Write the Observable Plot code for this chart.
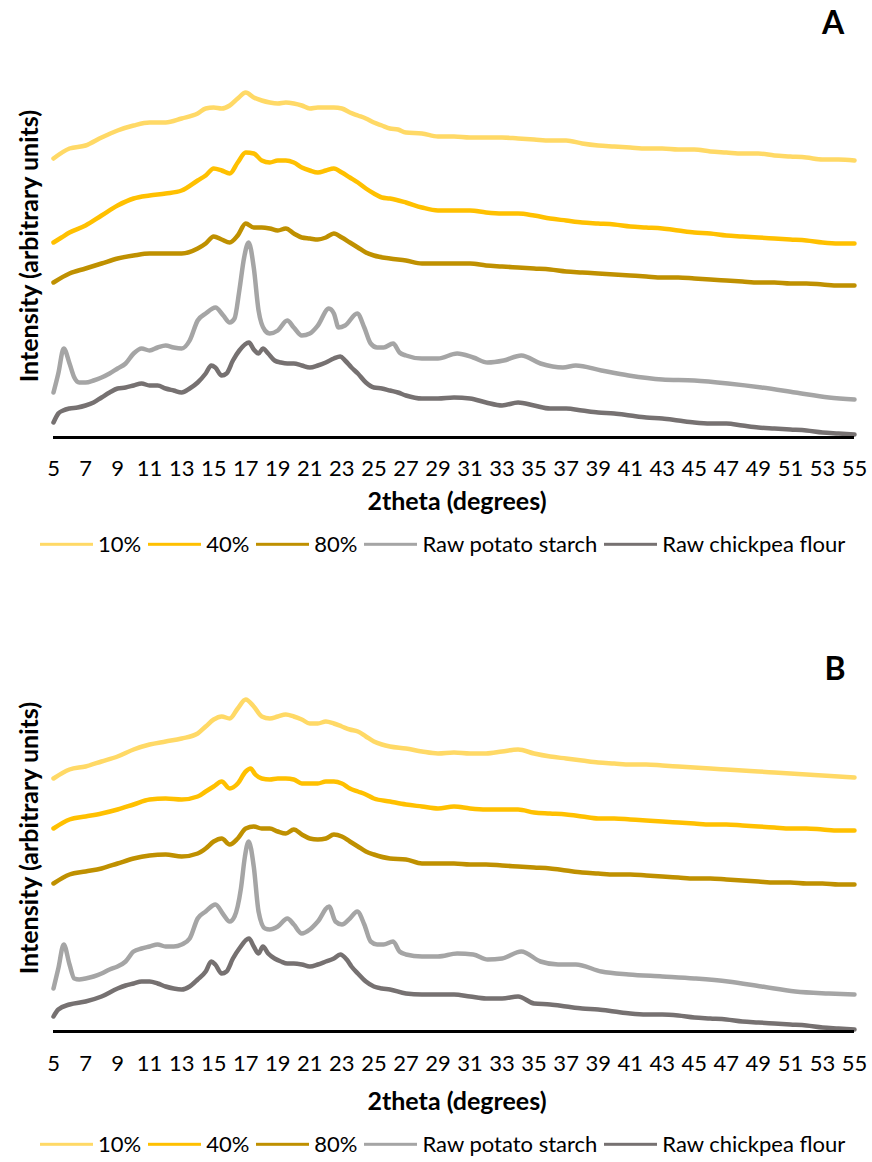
<!DOCTYPE html>
<html>
<head>
<meta charset="utf-8">
<script src="https://cdn.jsdelivr.net/npm/d3@7"></script>
<script src="https://cdn.jsdelivr.net/npm/@observablehq/plot@0.6"></script>
<style>
  body { margin: 0; background: #fff; font-family: Lato, "Open Sans", sans-serif; }
  #chart { position: relative; width: 872px; height: 1162px; overflow: hidden; }
  #chart svg { position: absolute; left: 0; overflow: visible; }
  .tag { position: absolute; font-weight: 700; font-size: 32px; line-height: 1; transform: translate(-50%, -50%); }
  .ytitle { position: absolute; font-weight: 700; font-size: 25px; white-space: nowrap; line-height: 1;
            transform: translate(-50%, -50%) rotate(-90deg); }
  .xtitle { position: absolute; font-weight: 700; font-size: 25px; white-space: nowrap; line-height: 1;
            transform: translate(-50%, -50%); }
  .legend { position: absolute; left: 40px; display: flex; align-items: center; gap: 7px;
            font-size: 22px; line-height: 1.2; transform: translateY(-50%); white-space: nowrap; }
  .legend .item { display: flex; align-items: center; }
  .legend .swatch { width: 53px; height: 3px; margin-right: 5px; }
</style>
</head>
<body>
<div id="chart"></div>
<script>
// Series names and colours (legend order)
const seriesNames = ["10%", "40%", "80%", "Raw potato starch", "Raw chickpea flour"];
const seriesColors = ["#FFD966", "#FFC000", "#BF9000", "#A5A5A5", "#767171"];

// 2theta tick labels
const xTicks = [5, 7, 9, 11, 13, 15, 17, 19, 21, 23, 25, 27, 29, 31, 33, 35, 37, 39, 41, 43, 45, 47, 49, 51, 53, 55];

// Panel A diffractograms: [2theta (deg), intensity (a.u., offset stacked)]
const a10 = [[5,279],[6,289],[7,292],[8,300],[9,307],[10,312],[11,315],[12,315],[13,319],[14,324],[14.5,329],[15,330],[15.5,329],[16,332],[16.5,339],[17,345],[17.5,340],[18,337],[18.5,335],[19,334],[19.5,335],[20,334],[20.5,332],[21,329],[21.5,330],[22,330],[22.5,330],[23,329],[23.5,325],[24,322],[24.5,319],[25,315],[25.5,312],[26,309],[26.5,308],[27,305],[28,304],[29,301],[30,301],[31,300],[32,300],[33,300],[34,299],[35,298],[36,297],[37,297],[38,294],[39,292],[40,291],[41,290],[42,289],[43,289],[44,288],[45,288],[46,286],[47,285],[48,284],[49,284],[50,282],[51,281],[52,280],[53,278],[54,278],[55,277]];
const a40 = [[5,195],[5.5,200],[6,205],[7,212],[8,222],[9,232],[10,239],[11,242],[12,244],[13,247],[14,257],[14.5,262],[15,269],[15.5,267],[16,264],[16.5,275],[17,285],[17.5,284],[18,277],[18.5,275],[19,277],[19.5,277],[20,275],[20.5,270],[21,267],[21.5,265],[22,267],[22.5,269],[23,265],[23.5,260],[24,255],[24.5,249],[25,244],[25.5,240],[26,239],[27,235],[28,230],[29,227],[30,227],[31,227],[32,225],[33,224],[34,224],[35,222],[36,219],[37,217],[38,215],[39,214],[40,213],[41,211],[42,210],[43,209],[44,207],[45,205],[46,204],[47,202],[48,201],[49,200],[50,199],[51,198],[52,197],[53,195],[54,194],[55,194]];
const a80 = [[5,155],[6,164],[7,169],[8,174],[9,179],[10,182],[11,184],[12,184],[13,184],[14,189],[14.5,194],[15,201],[15.5,198],[16,195],[16.5,202],[17,214],[17.5,210],[18,210],[18.5,209],[19,207],[19.5,209],[20,204],[20.5,200],[21,199],[21.5,198],[22,200],[22.5,204],[23,200],[23.5,195],[24,190],[24.5,185],[25,182],[26,179],[27,177],[28,174],[29,174],[30,174],[31,174],[32,172],[33,171],[34,170],[35,169],[36,168],[37,166],[38,165],[39,164],[40,163],[41,162],[42,161],[43,160],[44,160],[45,159],[46,158],[47,157],[48,156],[49,155],[50,155],[51,154],[52,154],[53,153],[54,152],[55,152]];
const aPotato = [[5,45],[5.3,64],[5.64,89],[6,74],[6.3,60],[6.6,55],[7,55],[7.5,57],[8,60],[8.5,64],[9,69],[9.5,74],[10,84],[10.5,89],[11,87],[11.5,90],[12,92],[12.5,90],[13,89],[13.5,97],[14,117],[14.5,124],[15.11,130],[15.6,122],[16,115],[16.3,119],[16.6,147],[16.9,180],[17.18,195],[17.5,170],[17.8,127],[18.2,107],[18.5,104],[19,107],[19.59,117],[20,110],[20.5,102],[21,104],[21.5,112],[22.19,129],[22.5,124],[22.8,110],[23.2,112],[23.96,124],[24.4,110],[24.8,94],[25.2,90],[25.6,90],[26.2,94],[26.6,85],[27,82],[28,79],[29,79],[30.2,84],[31.2,80],[32.1,75],[33.1,77],[34.2,82],[35.4,74],[36.8,70],[37.6,72],[39.2,67],[40.9,62],[43,58],[45,57],[47.1,54],[49.2,50],[51.3,45],[53.4,40],[55,38]];
const aChickpea = [[5,15],[5.3,24],[5.6,27],[6,29],[6.5,30],[7,32],[7.5,35],[8,40],[8.5,45],[9,49],[9.5,50],[10,52],[10.5,54],[11,52],[11.5,52],[12,49],[12.5,47],[13,45],[13.5,49],[14,55],[14.5,64],[14.85,72],[15.1,70],[15.5,62],[15.8,64],[16.2,77],[16.6,87],[17.2,95],[17.5,88],[17.8,84],[18.07,89],[18.4,84],[18.8,77],[19.2,75],[19.6,74],[20,74],[20.5,72],[21,70],[21.5,72],[22,75],[22.5,79],[22.9,81],[23.2,77],[23.6,70],[24,64],[24.5,55],[25,50],[25.5,49],[26,47],[26.5,45],[27,42],[28,39],[29,39],[30,40],[31,39],[32,35],[33,32],[34,35],[35,32],[36,29],[37,29],[38,27],[39,25],[40,24],[41,22],[42,20],[43,19],[44,17],[45,15],[46,14],[47,14],[48,12],[49,10],[50,9],[51,8],[52,7],[53,5],[54,4],[55,3]];

// Panel B diffractograms
const b10 = [[5,253],[6,262],[7,265],[8,270],[9,275],[10,282],[11,287],[12,290],[13,293],[14,298],[14.5,305],[15,312],[15.5,315],[16,313],[16.5,323],[17,332],[17.5,325],[18,315],[18.5,313],[19,315],[19.5,317],[20,315],[20.5,312],[21,308],[21.5,308],[22,310],[22.5,308],[23,305],[23.5,302],[24,300],[24.5,295],[25,290],[25.5,287],[26,285],[27,283],[28,280],[29,278],[30,279],[31,278],[32,278],[33,280],[34,282],[35,278],[36,275],[37,273],[38,271],[39,269],[40,268],[41,267],[42,267],[43,266],[44,265],[45,264],[46,263],[47,262],[48,261],[49,260],[50,259],[51,258],[52,257],[53,256],[54,255],[55,254]];
const b40 = [[5,203],[6,212],[7,215],[8,218],[9,222],[10,227],[11,232],[12,233],[13,232],[14,235],[14.5,240],[15,245],[15.5,250],[16,243],[16.5,248],[17,260],[17.3,263],[17.6,257],[18,253],[18.5,252],[19,253],[19.5,253],[20,252],[20.5,248],[21,248],[21.5,248],[22,250],[22.5,250],[23,248],[23.5,243],[24,240],[24.5,237],[25,233],[26,230],[27,227],[28,225],[29,223],[30,225],[31,223],[32,222],[33,222],[34,222],[35,219],[36,218],[37,217],[38,215],[39,213],[40,213],[41,212],[42,211],[43,210],[44,209],[45,208],[46,207],[47,207],[48,206],[49,205],[50,204],[51,203],[52,203],[53,202],[54,201],[55,201]];
const b80 = [[5,148],[6,157],[7,160],[8,163],[9,168],[10,173],[11,176],[12,177],[13,175],[14,178],[14.5,183],[15,190],[15.5,193],[16,187],[16.5,193],[17,203],[17.5,205],[18,203],[18.5,203],[19,200],[19.5,198],[20,202],[20.5,197],[21,193],[21.5,192],[22,193],[22.5,197],[23,195],[23.5,190],[24,185],[24.5,180],[25,177],[26,173],[27,172],[28,168],[29,168],[30,168],[31,167],[32,167],[33,166],[34,165],[35,164],[36,163],[37,161],[38,159],[39,158],[40,157],[41,157],[42,156],[43,155],[44,154],[45,153],[46,153],[47,152],[48,151],[49,150],[50,149],[51,149],[52,148],[53,148],[54,147],[55,147]];
const bPotato = [[5,43],[5.3,63],[5.64,87],[6,67],[6.3,53],[6.6,52],[7,53],[7.5,55],[8,58],[8.5,62],[9,65],[9.5,70],[10,80],[10.5,83],[11,85],[11.5,87],[12,85],[12.5,85],[13,87],[13.5,93],[14,113],[14.5,120],[15.11,127],[15.6,117],[16,110],[16.3,115],[16.7,143],[16.95,175],[17.18,190],[17.5,165],[17.8,120],[18.2,103],[18.5,102],[19,105],[19.6,113],[20,107],[20.5,98],[21,102],[21.5,110],[22.2,125],[22.6,110],[23,107],[23.5,113],[23.96,120],[24.4,107],[24.8,90],[25.2,87],[25.6,87],[26.2,90],[26.6,80],[27,77],[28,75],[29,75],[30.2,78],[31.2,77],[32.1,72],[33,73],[34.2,80],[35.4,70],[36.5,67],[37.6,67],[39.2,60],[40.9,57],[43,55],[45,53],[47.1,50],[49.2,45],[51.3,40],[53.4,38],[55,37]];
const bChickpea = [[5,15],[5.3,22],[6,27],[7,30],[8,35],[9,43],[9.5,46],[10,48],[10.5,50],[11,50],[11.5,48],[12,45],[12.5,43],[13,42],[13.5,45],[14,52],[14.5,60],[14.85,70],[15.1,67],[15.5,58],[15.8,60],[16.2,73],[16.6,83],[17.2,93],[17.5,85],[17.8,78],[18.07,85],[18.4,78],[18.8,73],[19.2,70],[19.6,68],[20,68],[20.5,67],[21,65],[21.5,67],[22,70],[22.5,73],[22.9,77],[23.3,72],[23.6,65],[24,58],[24.5,50],[25,45],[25.5,43],[26,42],[27,38],[28,37],[29,37],[30,37],[31,35],[32,33],[33,33],[34,35],[35,28],[36,27],[37,25],[38,23],[39,22],[40,20],[41,18],[42,17],[43,17],[44,16],[45,14],[46,13],[47,12],[48,10],[49,9],[50,8],[51,7],[52,6],[53,4],[54,3],[55,2]];

function toRows(seriesList) {
  return seriesList.flatMap((pts, i) => pts.map(([angle, intensity]) => ({series: seriesNames[i], angle, intensity})));
}

const chart = document.getElementById("chart");

function drawPanel({series, tag, top, tagPos, tickPad, xTitleY, yTitleY, legendY}) {
  const svg = Plot.plot({
    width: 872,
    height: 520,
    marginLeft: 53,
    marginRight: 18,
    marginTop: 57,
    marginBottom: 83,
    style: {fontFamily: "Lato, 'Open Sans', sans-serif", fontSize: "22px", color: "#000", background: "transparent"},
    x: {domain: [5, 55]},
    y: {domain: [0, 380], axis: null},
    color: {domain: seriesNames, range: seriesColors},
    marks: [
      Plot.line(toRows(series), {
        x: "angle", y: "intensity", z: "series", stroke: "series",
        strokeWidth: 4.5, strokeLinejoin: "round", strokeLinecap: "round", curve: "monotone-x"
      }),
      Plot.ruleY([0], {stroke: "#000", strokeWidth: 3}),
      Plot.axisX(xTicks, {tickSize: 0, tickPadding: tickPad, label: null, fill: "#000"})
    ]
  });
  svg.style.top = top + "px";
  chart.appendChild(svg);

  const t = document.createElement("div");
  t.className = "tag";
  t.textContent = tag;
  t.style.left = tagPos[0] + "px";
  t.style.top = tagPos[1] + "px";
  chart.appendChild(t);

  const yt = document.createElement("div");
  yt.className = "ytitle";
  yt.textContent = "Intensity (arbitrary units)";
  yt.style.left = "28px";
  yt.style.top = yTitleY + "px";
  chart.appendChild(yt);

  const xt = document.createElement("div");
  xt.className = "xtitle";
  xt.textContent = "2theta (degrees)";
  xt.style.left = "457px";
  xt.style.top = xTitleY + "px";
  chart.appendChild(xt);

  const lg = document.createElement("div");
  lg.className = "legend";
  lg.style.top = legendY + "px";
  seriesNames.forEach((name, i) => {
    const item = document.createElement("div");
    item.className = "item";
    const sw = document.createElement("span");
    sw.className = "swatch";
    sw.style.background = seriesColors[i];
    const lab = document.createElement("span");
    lab.textContent = name;
    item.appendChild(sw);
    item.appendChild(lab);
    lg.appendChild(item);
  });
  chart.appendChild(lg);
}

drawPanel({series: [a10, a40, a80, aPotato, aChickpea], tag: "A", top: 0, tagPos: [833, 22],
           tickPad: 23, xTitleY: 500, yTitleY: 246, legendY: 544});
drawPanel({series: [b10, b40, b80, bPotato, bChickpea], tag: "B", top: 594, tagPos: [835, 668],
           tickPad: 24, xTitleY: 1100, yTitleY: 838, legendY: 1144});
</script>
</body>
</html>
